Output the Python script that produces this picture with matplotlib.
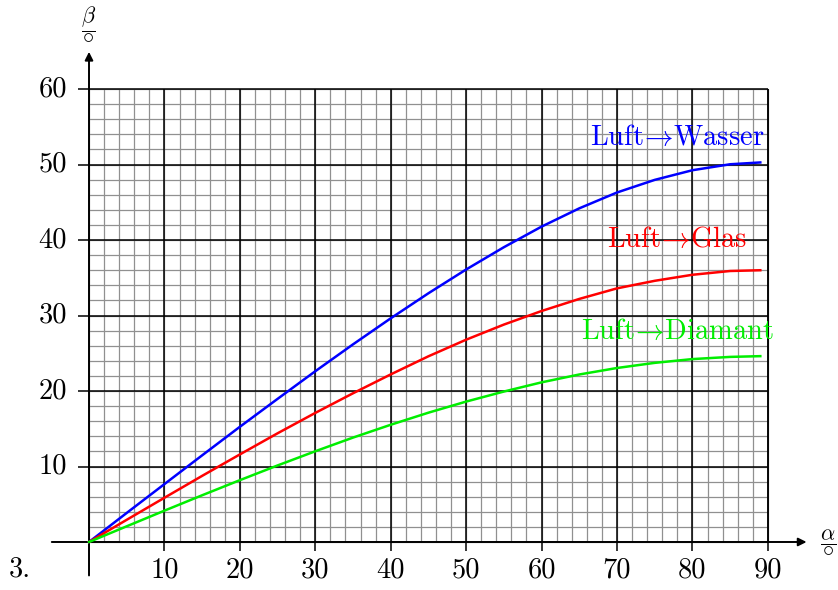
import numpy as np
import matplotlib
matplotlib.use("Agg")
import matplotlib.pyplot as plt

plt.rcParams['font.family'] = 'serif'
plt.rcParams['font.serif'] = ['cmr10', 'DejaVu Serif']
plt.rcParams['mathtext.fontset'] = 'cm'
plt.rcParams['axes.formatter.use_mathtext'] = True

# Einfallswinkel alpha und Brechungswinkel beta
alpha = [0, 5, 10, 15, 20, 25, 30, 35, 40, 45, 50, 55, 60, 65, 70, 75, 80, 85, 89]
beta_wasser = [0, 3.85, 7.67, 11.48, 15.26, 18.96, 22.62, 26.18, 29.63, 32.95,
               36.1, 39.05, 41.78, 44.2, 46.3, 47.97, 49.25, 50.04, 50.28]
beta_glas = [0, 2.94, 5.86, 8.76, 11.6, 14.4, 17.1, 19.7, 22.2, 24.6,
             26.8, 28.8, 30.6, 32.2, 33.6, 34.6, 35.4, 35.9, 36.0]
beta_diamant = [0, 2.08, 4.15, 6.19, 8.19, 10.14, 12.02, 13.83, 15.53, 17.13,
                18.6, 19.93, 21.15, 22.19, 23.05, 23.73, 24.23, 24.52, 24.62]

x_ticks = [10, 20, 30, 40, 50, 60, 70, 80, 90]
y_ticks = [10, 20, 30, 40, 50, 60]

fig = plt.figure(figsize=(8.38, 5.90), dpi=100)
ax = fig.add_axes([0, 0, 1, 1])
ax.set_xlim(-11.8, 99.3)
ax.set_ylim(-6.36, 71.8)
ax.axis('off')

# Millimeterpapier
minor_x = np.arange(0, 91, 2)
minor_y = np.arange(0, 61, 2)
ax.vlines(minor_x, 0, 60, color='#909090', lw=0.9, zorder=1)
ax.hlines(minor_y, 0, 90, color='#909090', lw=0.9, zorder=1)
ax.vlines(x_ticks, -1.2, 60, color='black', lw=1.1, zorder=2)
ax.hlines(y_ticks, -1.5, 90, color='black', lw=1.1, zorder=2)
ax.vlines([90], 0, 60, color='black', lw=1.1, zorder=2)

# Achsen
ax.annotate('', xy=(95.5, 0), xytext=(-5.3, 0),
            arrowprops=dict(arrowstyle='-|>', color='black', lw=1.4,
                            mutation_scale=12), zorder=3)
ax.annotate('', xy=(0, 65.3), xytext=(0, -4.8),
            arrowprops=dict(arrowstyle='-|>', color='black', lw=1.4,
                            mutation_scale=12), zorder=3)

for xt in x_ticks:
    ax.text(xt, -2.0, str(xt), ha='center', va='top', fontsize=20.5)
for yt in y_ticks:
    ax.text(-2.9, yt, str(yt), ha='right', va='center', fontsize=20.5)

ax.text(0, 66.0, r'$\dfrac{\beta}{\circ}$', ha='center', va='bottom', fontsize=16)
ax.text(98.0, 0, r'$\dfrac{\alpha}{\circ}$', ha='center', va='center', fontsize=16)
ax.text(-10.7, -3.6, '3.', ha='left', va='center', fontsize=20.5)

# Kurven
ax.plot(alpha, beta_wasser, color='blue', lw=1.8, zorder=4)
ax.plot(alpha, beta_glas, color='red', lw=1.8, zorder=4)
ax.plot(alpha, beta_diamant, color='#00ee00', lw=1.8, zorder=4)

ax.text(89.5, 53.5, r'Luft$\!\rightarrow\!$Wasser', color='blue', ha='right',
        va='center', fontsize=20.5, zorder=5)
ax.text(87.3, 40.0, r'Luft$\!\rightarrow\!$Glas', color='red', ha='right',
        va='center', fontsize=20.5, zorder=5)
ax.text(90.8, 27.9, r'Luft$\!\rightarrow\!$Diamant', color='#00ee00', ha='right',
        va='center', fontsize=20.5, zorder=5)

fig.savefig('out.png', dpi=100)
